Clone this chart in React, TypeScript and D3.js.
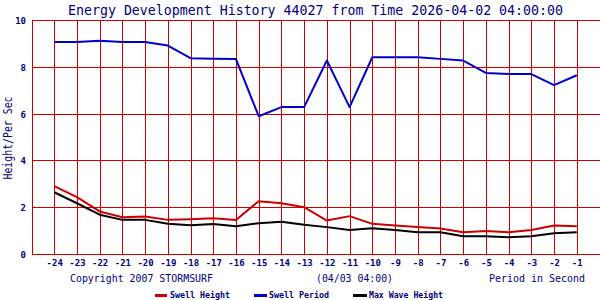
import React from "react";
import * as d3 from "d3";

const hours = [-24, -23, -22, -21, -20, -19, -18, -17, -16, -15, -14, -13, -12, -11, -10, -9, -8, -7, -6, -5, -4, -3, -2, -1];
const swellPeriod = [9.08, 9.08, 9.13, 9.08, 9.08, 8.93, 8.39, 8.37, 8.35, 5.91, 6.3, 6.3, 8.29, 6.3, 8.43, 8.43, 8.43, 8.36, 8.29, 7.76, 7.71, 7.71, 7.24, 7.66];
const swellHeight = [2.92, 2.45, 1.84, 1.59, 1.62, 1.48, 1.51, 1.55, 1.47, 2.28, 2.19, 2.02, 1.45, 1.64, 1.31, 1.24, 1.17, 1.11, 0.95, 1.0, 0.95, 1.05, 1.24, 1.21];
const maxWave = [2.66, 2.19, 1.7, 1.48, 1.48, 1.31, 1.25, 1.3, 1.21, 1.34, 1.4, 1.27, 1.17, 1.05, 1.12, 1.05, 0.95, 0.95, 0.78, 0.78, 0.74, 0.78, 0.91, 0.95];
const yTicks = [0, 2, 4, 6, 8, 10];
const xGrid = d3.range(-25, 1);

const title = "Energy Development History 44027 from Time 2026-04-02 04:00:00";

const series = [
  { name: "Swell Height", values: swellHeight, color: "#cc0000" },
  { name: "Swell Period", values: swellPeriod, color: "#0000cc" },
  { name: "Max Wave Height", values: maxWave, color: "#000000" },
];

const font = "'DejaVu Sans Mono', monospace";
const navy = "#000080";
const gridColor = "#cc0000";

export default function App() {
  const x = d3.scaleLinear().domain([-25, 0]).range([31.5, 599.5]);
  const y = d3.scaleLinear().domain([0, 10]).range([254.5, 20.5]);
  const line = d3
    .line<number>()
    .x((_, i) => x(hours[i]))
    .y((d) => y(d));

  const legend = [
    { lx1: 155, lx2: 167, tx: 170, tw: 60 },
    { lx1: 254, lx2: 267, tx: 269, tw: 60 },
    { lx1: 353, lx2: 367, tx: 369, tw: 74 },
  ];

  return (
    <svg
      width={600}
      height={300}
      style={{ position: "absolute", left: 0, top: 0, background: "#fff" }}
      fontFamily={font}
    >
      <rect x={0} y={0} width={600} height={300} fill="#fff" />
      <text x={68} y={15} fontSize={14} fill={navy} textLength={495} lengthAdjust="spacingAndGlyphs">
        {title}
      </text>
      <g shapeRendering="crispEdges" stroke={gridColor} strokeWidth={1}>
        {xGrid.map((v) => (
          <line key={"vx" + v} x1={Math.round(x(v)) + 0.5} x2={Math.round(x(v)) + 0.5} y1={y(10)} y2={y(0)} />
        ))}
        {yTicks.map((v) => (
          <line key={"hy" + v} x1={x(-25)} x2={x(0)} y1={y(v)} y2={y(v)} />
        ))}
      </g>
      {yTicks.map((v) => (
        <text key={"yl" + v} x={26} y={y(v) + 3.5} fontSize={9} fontWeight="bold" fill={navy} textAnchor="end">
          {v}
        </text>
      ))}
      {hours.map((h) => (
        <text key={"xl" + h} x={x(h) + 0.5} y={265.5} fontSize={9} fontWeight="bold" fill={navy} textAnchor="middle">
          {h}
        </text>
      ))}
      <text
        transform="translate(12,138) rotate(-90)"
        fontSize={12}
        fill={navy}
        textAnchor="middle"
        textLength={83}
        lengthAdjust="spacingAndGlyphs"
      >
        Height/Per Sec
      </text>
      {series.map((s) => (
        <path key={s.name} d={line(s.values) || ""} fill="none" stroke={s.color} strokeWidth={2} strokeLinejoin="round" />
      ))}
      <text x={70} y={282} fontSize={11} fill={navy} textLength={143} lengthAdjust="spacingAndGlyphs">
        Copyright 2007 STORMSURF
      </text>
      <text x={316} y={282} fontSize={11} fill={navy} textLength={77} lengthAdjust="spacingAndGlyphs">
        (04/03 04:00)
      </text>
      <text x={489} y={282} fontSize={11} fill={navy} textLength={96} lengthAdjust="spacingAndGlyphs">
        Period in Second
      </text>
      {series.map((s, i) => (
        <g key={"lg" + s.name}>
          <line x1={legend[i].lx1} x2={legend[i].lx2} y1={295} y2={295} stroke={s.color} strokeWidth={3} shapeRendering="crispEdges" />
          <text
            x={legend[i].tx}
            y={298}
            fontSize={8}
            fontWeight="bold"
            fill={navy}
            textLength={legend[i].tw}
            lengthAdjust="spacingAndGlyphs"
          >
            {s.name}
          </text>
        </g>
      ))}
    </svg>
  );
}
